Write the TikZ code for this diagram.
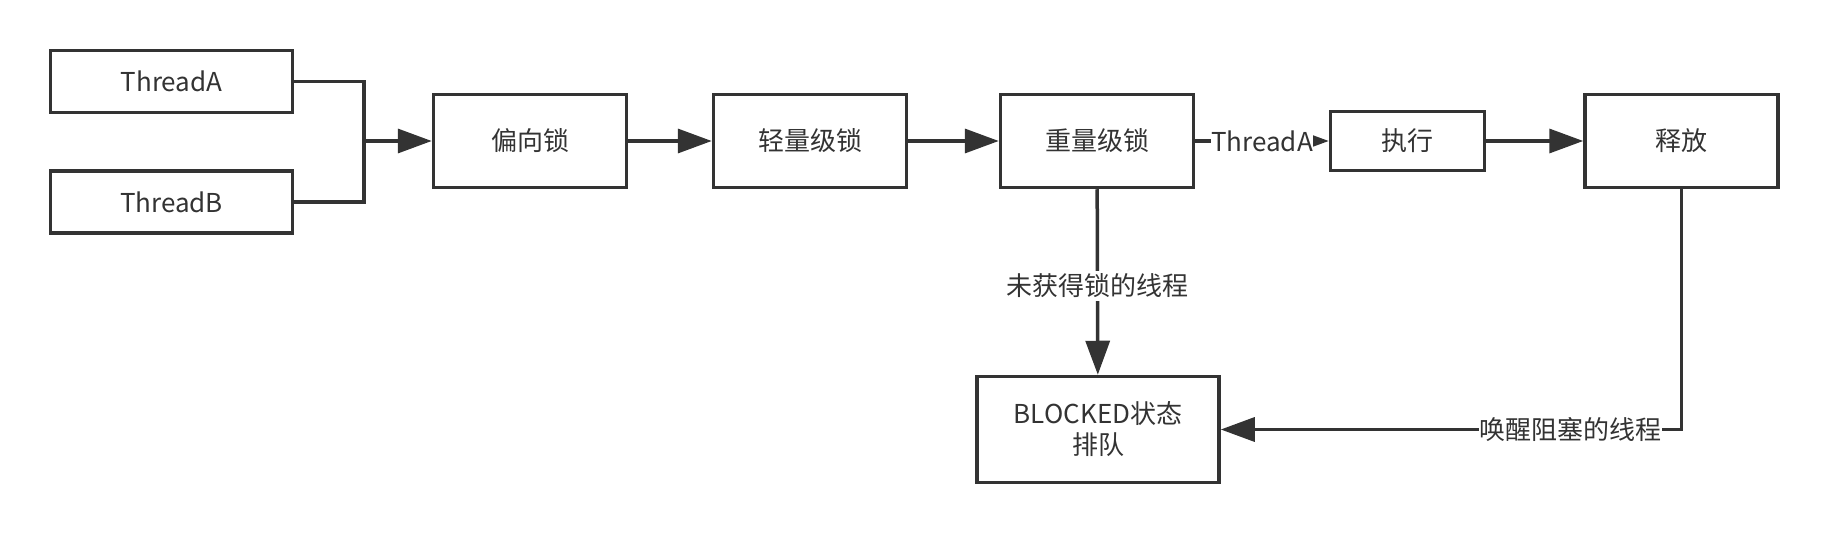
\documentclass[tikz,border=0pt]{standalone}
\usepackage{fontspec}
\setmainfont{Noto Sans CJK SC}
\usetikzlibrary{arrows.meta}

\definecolor{ink}{HTML}{333333}

\begin{document}
\begin{tikzpicture}[x = 1pt, y = -1pt, line width = 3.5pt, color = ink,
  box/.style = {draw, rectangle, inner sep = 0, align = center, font = \fontsize{26}{31}\selectfont},
  thread/.style = {box, minimum width = 242pt, minimum height = 62pt},
  lock/.style = {box, minimum width = 193pt, minimum height = 93pt},
  flow/.style = {-{Triangle[length = 34pt, width = 24pt]}},
  lbl/.style = {fill = white, inner sep = 0.5pt, minimum height = 30pt, font = \fontsize{26}{31}\selectfont}]

\useasboundingbox (0, 0) rectangle (1830, 534);

\node[thread] (threadA) at (171.5, 81.5) {ThreadA};
\node[thread] (threadB) at (171.5, 202) {ThreadB};

\node[lock] (bias) at (530, 141) {偏向锁};
\node[lock] (light) at (810, 141) {轻量级锁};
\node[lock] (heavy) at (1097, 141) {重量级锁};
\node[box, minimum width = 154pt, minimum height = 59pt] (run) at (1407.5, 141) {执行};
\node[lock] (release) at (1681.5, 141) {释放};

\node[box, minimum width = 242pt, minimum height = 106pt] (blocked) at (1098, 429.5) {BLOCKED状态\\排队};

\coordinate (join) at (364, 141);
\draw (threadA.east) -| (join);
\draw (threadB.east) -| (join);
\draw[flow] (join) -- (bias.west);

\draw[flow] (bias) -- (light);
\draw[flow] (light) -- (heavy);
\draw[flow] (heavy) -- node[lbl] {ThreadA} (run);
\draw[flow] (run) -- (release);

\draw[flow] (heavy) -- node[lbl, pos = 0.52] {未获得锁的线程} (blocked);
\draw[flow] (release) |- node[lbl, pos = 0.62] {唤醒阻塞的线程} (blocked);

\end{tikzpicture}
\end{document}
